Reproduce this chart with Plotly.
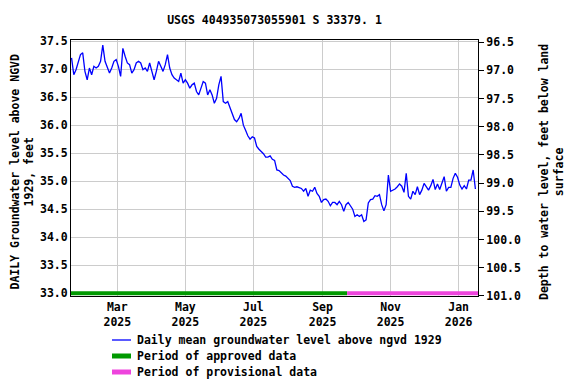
import pandas as pd
import plotly.graph_objects as go

# ---- data ----
start_date = "2025-01-19"
step = "2D"
level = [
    37.20, 36.90, 36.99, 37.14, 37.26, 37.29, 36.96, 36.81, 37.02, 36.90,
    37.05, 37.02, 37.05, 37.14, 37.43, 37.14, 37.05, 36.93, 37.02, 37.14,
    37.17, 37.05, 36.87, 37.37, 37.23, 37.11, 37.08, 36.93, 36.99, 37.11,
    37.14, 37.11, 36.99, 37.02, 36.96, 37.11, 36.96, 36.81, 36.96, 37.14,
    37.05, 36.96, 37.08, 37.26, 37.02, 36.90, 36.84, 36.81, 36.78, 36.93,
    36.75, 36.81, 36.75, 36.66, 36.72, 36.75, 36.60, 36.54, 36.66, 36.78,
    36.75, 36.54, 36.63, 36.54, 36.39, 36.48, 36.72, 36.87, 36.42, 36.39,
    36.42, 36.30, 36.20, 36.10, 36.06, 36.12, 36.21, 36.00, 35.91, 35.81,
    35.75, 35.79, 35.77, 35.62, 35.57, 35.53, 35.49, 35.43, 35.43, 35.45,
    35.39, 35.37, 35.20, 35.19, 35.15, 35.11, 35.09, 35.05, 35.01, 34.91,
    34.89, 34.90, 34.88, 34.87, 34.82, 34.87, 34.73, 34.84, 34.82, 34.89,
    34.78, 34.73, 34.62, 34.67, 34.68, 34.64, 34.56, 34.62, 34.62, 34.58,
    34.64, 34.58, 34.46, 34.58, 34.62, 34.55, 34.50, 34.37, 34.40, 34.37,
    34.40, 34.28, 34.31, 34.61, 34.67, 34.68, 34.74, 34.73, 34.76, 34.58,
    34.47, 34.58, 35.11, 34.82, 34.84, 34.86, 34.90, 34.95, 34.91, 34.80,
    35.14, 34.73, 34.68, 34.82, 34.76, 34.90, 34.76, 34.84, 34.96, 34.91,
    34.84, 34.92, 35.03, 34.85, 34.95, 34.85, 34.95, 35.08, 34.82, 34.89,
    34.89, 35.05, 35.14, 35.07, 34.93, 34.86, 34.92, 34.86, 35.02, 35.02,
    35.20, 34.86,
]
dates = pd.date_range(start_date, periods=len(level), freq=step)

approved_period = ["2025-01-18 12:00", "2025-09-23"]
provisional_period = ["2025-09-23", "2026-01-18 08:00"]
period_level = 33.0

x_range = ["2025-01-18 12:00", "2026-01-18 08:00"]
left_range = [32.95, 37.52]
right_range = [101.002, 96.46]

tick_dates = ["2025-03-01", "2025-05-01", "2025-07-01", "2025-09-01", "2025-11-01", "2026-01-01"]
tick_text = ["Mar<br>2025", "May<br>2025", "Jul<br>2025", "Sep<br>2025", "Nov<br>2025", "Jan<br>2026"]

title = "USGS 404935073055901 S 33379. 1"
left_title = "DAILY Groundwater level above NGVD<br>1929, feet"
right_title = "Depth to water level, feet below land<br>surface"

legend_names = ["Daily mean groundwater level above ngvd 1929",
                "Period of approved data",
                "Period of provisional data"]
colors = ["#0000ff", "#009900", "#ee44dd"]
legend_widths = [1.3, 5, 5]

FONT = "DejaVu Sans Mono"
FS = 11.5
font = dict(family=FONT, size=FS, color="black", weight="bold")

# page offset (browser body margin) and target plot area in page pixels
OFF = 8
W, H = 576 - OFF, 384 - OFF
L, R, T, B = 71, 478, 40, 296
PW, PH = R - L, B - T


def px_x(p):
    return (p - L) / PW


def px_y(p):
    return (B - p) / PH


fig = go.Figure()
fig.add_trace(go.Scatter(
    x=dates, y=level, mode="lines", line=dict(color=colors[0], width=1.3),
    name=legend_names[0]))
fig.add_trace(go.Scatter(
    x=approved_period, y=[period_level, period_level], mode="lines",
    line=dict(color=colors[1], width=4), name=legend_names[1]))
fig.add_trace(go.Scatter(
    x=provisional_period, y=[period_level, period_level], mode="lines",
    line=dict(color=colors[2], width=4), name=legend_names[2]))
fig.add_trace(go.Scatter(x=[dates[0]], y=[None], yaxis="y2", showlegend=False,
                         hoverinfo="skip"))

annotations = [
    dict(text=left_title, xref="paper", yref="paper", x=px_x(21.5), y=px_y(172),
         xanchor="center", yanchor="middle", textangle=-90, showarrow=False, font=font),
    dict(text=right_title, xref="paper", yref="paper", x=px_x(551), y=px_y(172),
         xanchor="center", yanchor="middle", textangle=-90, showarrow=False, font=font),
]
shapes = []
rows_y = [340, 356, 372]
for name, col, w, ry in zip(legend_names, colors, legend_widths, rows_y):
    shapes.append(dict(type="line", xref="paper", yref="paper",
                       x0=px_x(112), x1=px_x(131), y0=px_y(ry), y1=px_y(ry),
                       line=dict(color=col, width=w)))
    annotations.append(dict(text=name, xref="paper", yref="paper", x=px_x(135),
                            y=px_y(ry), xanchor="left", yanchor="middle",
                            showarrow=False, font=font))

fig.update_layout(
    width=W, height=H,
    margin=dict(l=L - OFF, r=576 - R, t=T - OFF, b=384 - B, autoexpand=False),
    paper_bgcolor="white", plot_bgcolor="white",
    font=font,
    title=dict(text=title, x=(L - OFF + PW / 2) / W, xanchor="center",
               y=1 - (20 - OFF) / H, yanchor="middle", font=font),
    showlegend=False,
    xaxis=dict(range=x_range, type="date", tickvals=tick_dates, ticktext=tick_text,
               showgrid=True, gridcolor="#cccccc", gridwidth=1,
               showline=True, linecolor="black", linewidth=1, mirror=True,
               ticks="", zeroline=False),
    yaxis=dict(range=left_range, dtick=0.5, tick0=33.0, tickformat=".1f",
               showgrid=True, gridcolor="#cccccc", gridwidth=1,
               showline=True, linecolor="black", linewidth=1, mirror=True,
               ticks="", zeroline=False),
    yaxis2=dict(range=right_range, overlaying="y", side="right", dtick=0.5, tick0=96.5,
                tickformat=".1f", showgrid=False, showline=False, zeroline=False,
                ticks="outside", ticklen=5, tickcolor="black"),
    annotations=annotations,
    shapes=shapes,
)

fig.write_html("out.html")
